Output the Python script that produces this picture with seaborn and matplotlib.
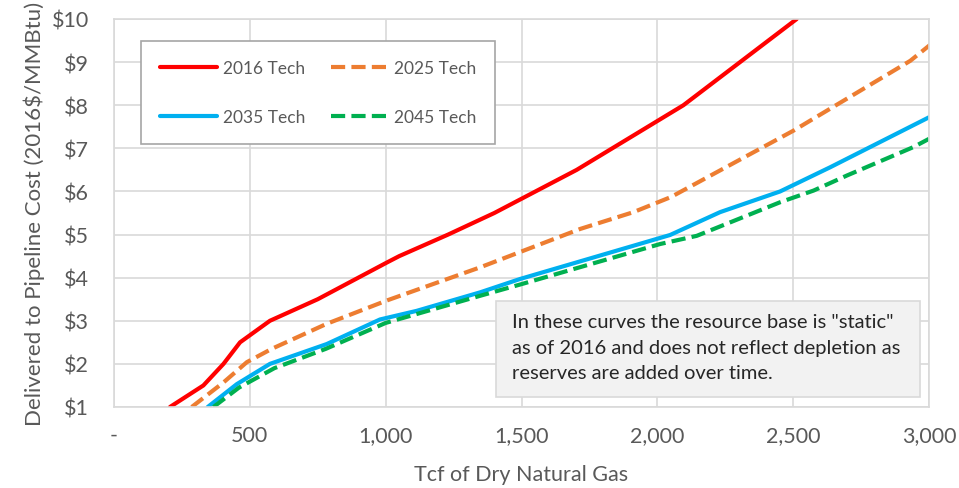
import matplotlib
matplotlib.use("Agg")
import matplotlib.pyplot as plt
import matplotlib.ticker as mticker
from matplotlib.patches import Rectangle
import pandas as pd
import seaborn as sns

# Supply curves (Tcf, $/MMBtu)
tech_2016_x = [206, 329, 403, 464, 574, 750, 1004, 1050, 1230, 1400, 1703, 2096, 2513]
tech_2016_y = [1.0, 1.5, 2.0, 2.5, 3.0, 3.5, 4.35, 4.5, 5.0, 5.5, 6.5, 8.0, 10.0]

tech_2025_x = [286, 403, 489, 581, 783, 1004, 1348, 1716, 1912, 2050, 2501, 2931, 3004]
tech_2025_y = [1.0, 1.57, 2.04, 2.35, 2.93, 3.47, 4.24, 5.13, 5.52, 5.87, 7.41, 9.03, 9.4]

tech_2035_x = [345, 452, 574, 783, 979, 1114, 1348, 1495, 2047, 2231, 2452, 2636, 3000]
tech_2035_y = [1.0, 1.53, 2.0, 2.46, 3.03, 3.23, 3.66, 3.97, 4.99, 5.52, 6.0, 6.56, 7.72]

tech_2045_x = [366, 460, 590, 780, 1000, 1348, 1500, 2010, 2145, 2452, 2575, 2698, 2943, 3000]
tech_2045_y = [1.0, 1.45, 1.9, 2.35, 2.95, 3.58, 3.85, 4.78, 4.97, 5.75, 6.02, 6.37, 7.03, 7.22]

series_names = ["2016 Tech", "2025 Tech", "2035 Tech", "2045 Tech"]
series_colors = ["#ff0000", "#ed7d31", "#00b0f0", "#00b050"]
series_dashes = [(), (3.4, 1.5), (), (3.4, 1.5)]

x_ticks = [0, 500, 1000, 1500, 2000, 2500, 3000]
y_ticks = [1, 2, 3, 4, 5, 6, 7, 8, 9, 10]

note = ('In these curves the resource base is "static"\n'
        'as of 2016 and does not reflect depletion as\n'
        'reserves are added over time.')

# long table for seaborn
frames = []
for name, xs, ys in zip(series_names,
                        [tech_2016_x, tech_2025_x, tech_2035_x, tech_2045_x],
                        [tech_2016_y, tech_2025_y, tech_2035_y, tech_2045_y]):
    frames.append(pd.DataFrame({"tcf": xs, "cost": ys, "series": name}))
df = pd.concat(frames, ignore_index=True)

sns.set_theme(style="whitegrid")
plt.rcParams["font.family"] = ["Lato", "DejaVu Sans"]

fig = plt.figure(figsize=(9.59, 4.89), dpi=100)
ax = fig.add_axes([114 / 959, 81 / 489, 815 / 959, 388 / 489])

sns.lineplot(data=df, x="tcf", y="cost", hue="series", style="series",
             hue_order=series_names, style_order=series_names,
             palette=dict(zip(series_names, series_colors)),
             dashes=dict(zip(series_names, series_dashes)),
             sort=False, estimator=None, linewidth=3.0, legend=False, ax=ax)

ax.set_xlim(0, 3000)
ax.set_ylim(1, 10)
ax.set_xticks(x_ticks)
ax.set_yticks(y_ticks)
ax.xaxis.set_major_formatter(mticker.FuncFormatter(lambda v, p: "-" if v == 0 else f"{v:,.0f}"))
ax.yaxis.set_major_formatter(mticker.FuncFormatter(lambda v, p: f"${v:.0f}"))
ax.tick_params(axis="both", colors="#595959", labelsize=15.5, length=0)
ax.tick_params(axis="x", pad=13)
ax.tick_params(axis="y", pad=18)
ax.grid(True, color="#d9d9d9", linewidth=1.2)
for s in ax.spines.values():
    s.set_color("#d9d9d9")
    s.set_linewidth(1.2)

ax.set_xlabel("Tcf of Dry Natural Gas", color="#595959", fontsize=15.5, labelpad=14)
ax.set_ylabel("Delivered to Pipeline Cost (2016$/MMBtu)", color="#595959", fontsize=16, labelpad=5)

# legend, two columns filled row by row: 2016, 2025 / 2035, 2045
lines = ax.get_lines()[:4]
order = [0, 2, 1, 3]
leg = ax.legend([lines[i] for i in order], [series_names[i] for i in order],
                ncol=2, loc="upper left",
                bbox_to_anchor=(27 / 815, 267 / 388, 354 / 815, 99 / 388), mode="expand",
                borderaxespad=0, fontsize=12.5, handlelength=3.3, handletextpad=0.3,
                labelspacing=1.9, borderpad=1.1, columnspacing=2.0,
                fancybox=False, framealpha=1, edgecolor="#a6a6a6")
leg.get_frame().set_linewidth(1.2)
for t in leg.get_texts():
    t.set_color("#595959")

# note box
ax.add_patch(Rectangle((382 / 815, 10 / 388), 424 / 815, 96 / 388, transform=ax.transAxes,
                       facecolor="#f2f2f2", edgecolor="#d9d9d9", linewidth=1.2, zorder=5))
ax.text(398 / 815, 94 / 388, note, transform=ax.transAxes, ha="left", va="top",
        fontsize=14.5, color="#262626", linespacing=1.62, zorder=6)

fig.savefig("out.png", dpi=100)
